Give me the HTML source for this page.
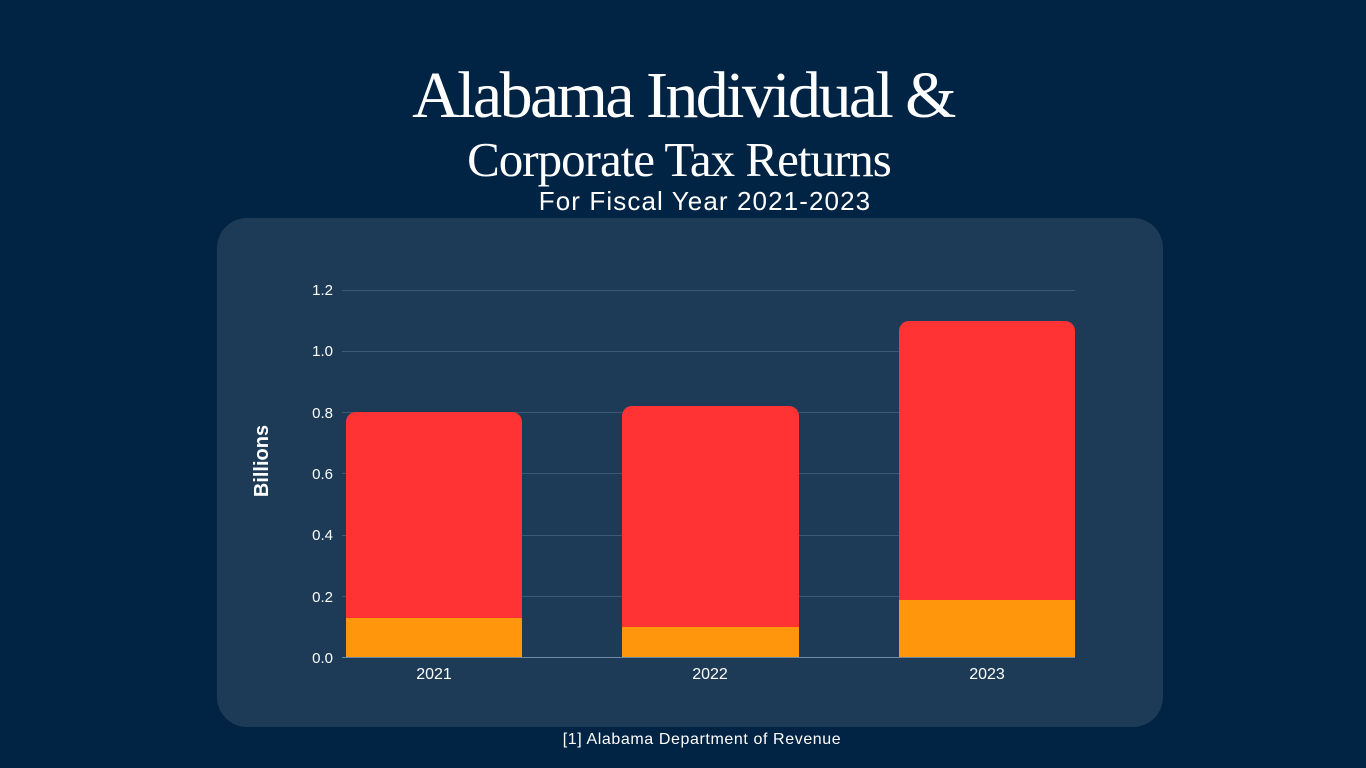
<!DOCTYPE html>
<html><head><meta charset="utf-8"><style>
html,body{margin:0;padding:0;}
body{width:1366px;height:768px;background:#012344;position:relative;overflow:hidden;font-family:"Liberation Sans",sans-serif;color:#fff;}
.t1{position:absolute;left:0;width:1366px;text-align:center;top:58px;font-family:"Liberation Serif",serif;font-size:66px;letter-spacing:-2.6px;line-height:76px;}
.t2{position:absolute;left:0;width:1366px;text-align:center;top:131px;font-family:"Liberation Serif",serif;font-size:49px;line-height:58px;letter-spacing:-1px;padding-right:8px;box-sizing:border-box;}
.t3{position:absolute;left:0;width:1366px;text-align:center;top:186px;font-size:26px;line-height:30px;padding-left:44px;box-sizing:border-box;letter-spacing:1.1px;}
.panel{position:absolute;left:217px;top:218px;width:946px;height:509px;background:#1d3b57;border-radius:30px;}
.src{position:absolute;left:0;width:1366px;text-align:center;top:731px;font-size:16px;padding-left:38px;box-sizing:border-box;letter-spacing:0.6px;}
</style></head><body>
<div class="t1">Alabama Individual &amp;</div>
<div class="t2">Corporate Tax Returns</div>
<div class="t3">For Fiscal Year 2021-2023</div>
<div class="panel"></div>
<svg width="1366" height="768" style="position:absolute;left:0;top:0" font-family="Liberation Sans, sans-serif">
<g stroke="#3b5875" stroke-width="1">
<line x1="342" x2="1075" y1="290.5" y2="290.5"/>
<line x1="342" x2="1075" y1="351.5" y2="351.5"/>
<line x1="342" x2="1075" y1="412.5" y2="412.5"/>
<line x1="342" x2="1075" y1="473.5" y2="473.5"/>
<line x1="342" x2="1075" y1="535.5" y2="535.5"/>
<line x1="342" x2="1075" y1="596.5" y2="596.5"/>
</g>
<g fill="#ffffff" font-size="15" text-anchor="end">
<text x="333" y="295">1.2</text>
<text x="333" y="356">1.0</text>
<text x="333" y="418">0.8</text>
<text x="333" y="479">0.6</text>
<text x="333" y="540">0.4</text>
<text x="333" y="602">0.2</text>
<text x="333" y="663">0.0</text>
</g>
<text x="268" y="461" fill="#fff" font-size="20" font-weight="bold" text-anchor="middle" transform="rotate(-90 268 461)">Billions</text>
<path d="M346 657 V422 a10 10 0 0 1 10 -10 H512 a10 10 0 0 1 10 10 V657Z" fill="#ff3334"/>
<rect x="346" y="618" width="176" height="39" fill="#ff960b"/>
<path d="M622 657 V416 a10 10 0 0 1 10 -10 H789 a10 10 0 0 1 10 10 V657Z" fill="#ff3334"/>
<rect x="622" y="627" width="177" height="30" fill="#ff960b"/>
<path d="M899 657 V331 a10 10 0 0 1 10 -10 H1065 a10 10 0 0 1 10 10 V657Z" fill="#ff3334"/>
<rect x="899" y="600" width="176" height="57" fill="#ff960b"/>
<line x1="342" x2="1075" y1="657.5" y2="657.5" stroke="#6f8aa3" stroke-width="1"/>
<g fill="#fff" font-size="16" text-anchor="middle">
<text x="434" y="679">2021</text>
<text x="710" y="679">2022</text>
<text x="987" y="679">2023</text>
</g>
</svg>
<div class="src">[1] Alabama Department of Revenue</div>
</body></html>
